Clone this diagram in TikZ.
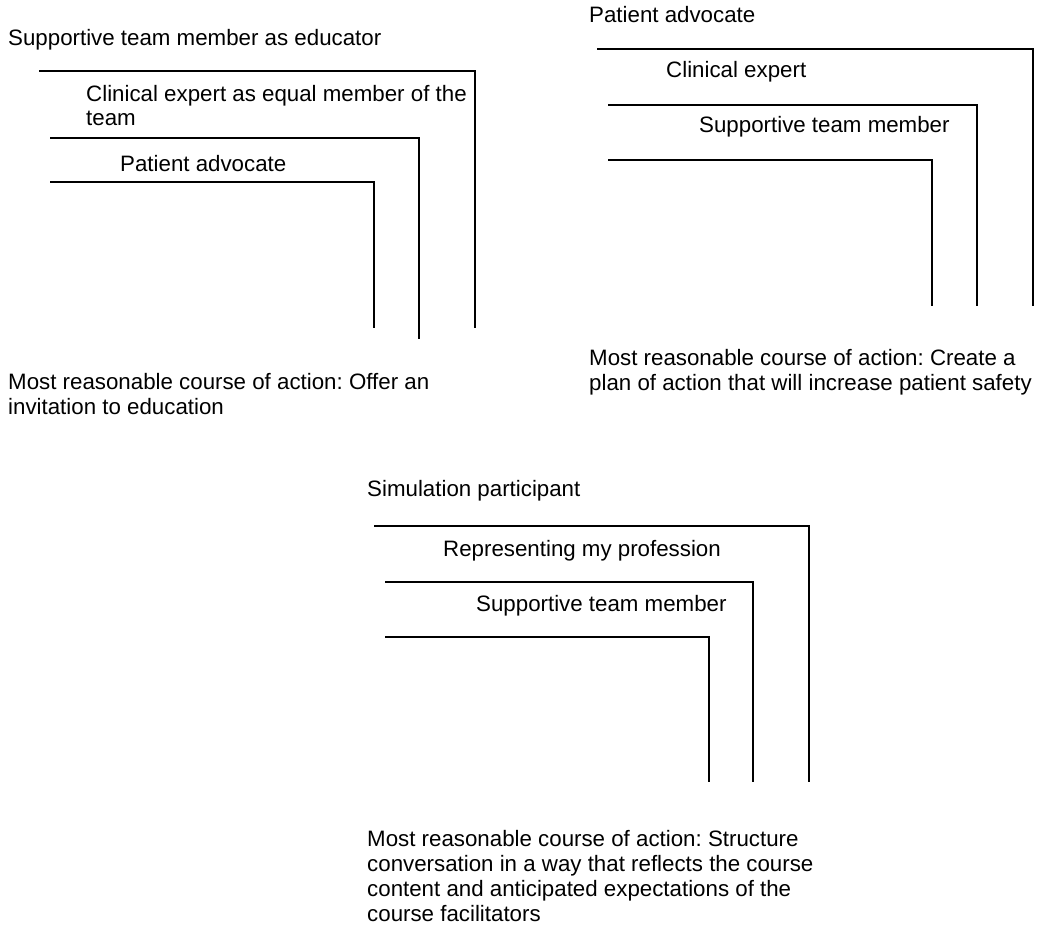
\documentclass[tikz,border=0pt]{standalone}
\usepackage{fontspec}
\setmainfont{Liberation Sans}
\usetikzlibrary{positioning}
\frenchspacing

\begin{document}
\begin{tikzpicture}[x=1pt,y=-1pt,
    font=\fontsize{22.3}{24.8}\selectfont,
    txt/.style={anchor=base west, inner sep=0, align=left},
    bracket/.style={line width=1.3pt, line cap=rect}]

\useasboundingbox (0,0) rectangle (1042,928);

% Left panel (multi-line nodes sit on their last baseline)
\node[txt] (l-title) at (8,45.5) {Supportive team member as educator};
\node[txt] (l-one) at (86,126) {Clinical expert as equal member of the\\team};
\node[txt] (l-two) at (120,171.5) {Patient advocate};
\node[txt] (l-action) at (8,414.5) {Most reasonable course of action: Offer an\\invitation to education};

\draw[bracket] (40,71) -- (475,71) -- (475,327);
\draw[bracket] (51,138) -- (419,138) -- (419,338);
\draw[bracket] (51,182) -- (374,182) -- (374,327);

% Right panel
\node[txt] (r-title) at (589,23) {Patient advocate};
\node[txt] (r-one) at (666,78) {Clinical expert};
\node[txt] (r-two) at (699,133) {Supportive team member};
\node[txt] (r-action) at (589,390) {Most reasonable course of action: Create a\\plan of action that will increase patient safety};

\draw[bracket] (598,49) -- (1033,49) -- (1033,305);
\draw[bracket] (609,105) -- (977,105) -- (977,305);
\draw[bracket] (609,160) -- (932,160) -- (932,305);

% Bottom panel
\node[txt] (b-title) at (367,496) {Simulation participant};
\node[txt] (b-one) at (443,556) {Representing my profession};
\node[txt] (b-two) at (476,611) {Supportive team member};
\node[txt] (b-action) at (367,921) {Most reasonable course of action: Structure\\conversation in a way that reflects the course\\content and anticipated expectations of the\\course facilitators};

\draw[bracket] (375,526) -- (809,526) -- (809,781);
\draw[bracket] (386,582) -- (753,582) -- (753,781);
\draw[bracket] (386,637) -- (709,637) -- (709,781);

\end{tikzpicture}
\end{document}
